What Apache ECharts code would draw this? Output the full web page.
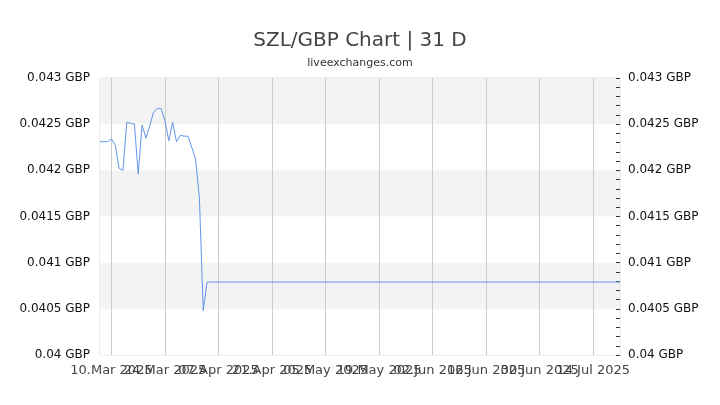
<!DOCTYPE html>
<html>
<head>
<meta charset="utf-8">
<script src="https://cdn.jsdelivr.net/npm/echarts@6/dist/echarts.min.js"></script>
<style>
  html, body { margin: 0; padding: 0; background: #fff; }
  #chart { width: 720px; height: 405px; }
</style>
</head>
<body>
<div id="chart"></div>
<script>
// daily SZL/GBP rate
const dates = [
  '2025-03-07', '2025-03-08', '2025-03-09', '2025-03-10', '2025-03-11', '2025-03-12',
  '2025-03-13', '2025-03-14', '2025-03-15', '2025-03-16', '2025-03-17', '2025-03-18',
  '2025-03-19', '2025-03-20', '2025-03-21', '2025-03-22', '2025-03-23', '2025-03-24',
  '2025-03-25', '2025-03-26', '2025-03-27', '2025-03-28', '2025-03-29', '2025-03-30',
  '2025-03-31', '2025-04-01', '2025-04-02', '2025-04-03', '2025-04-04', '2025-07-21'
];
const rates = [
  0.04231, 0.04231, 0.04231, 0.04234, 0.04227, 0.04202,
  0.04200, 0.04252, 0.04251, 0.04250, 0.04196, 0.04249,
  0.04235, 0.04248, 0.04263, 0.04267, 0.04267, 0.04253,
  0.04232, 0.04252, 0.04231, 0.04238, 0.04237, 0.04237,
  0.04225, 0.04212, 0.04170, 0.04048, 0.04079, 0.04079
];
// x axis tick labels (every 14 days)
const tickDates = [
  '2025-03-10', '2025-03-24', '2025-04-07', '2025-04-21', '2025-05-05',
  '2025-05-19', '2025-06-02', '2025-06-16', '2025-06-30', '2025-07-14'
];
const xStart = '2025-03-07';
const xEnd = '2025-07-21';

const months = ['Jan', 'Feb', 'Mar', 'Apr', 'May', 'Jun', 'Jul', 'Aug', 'Sep', 'Oct', 'Nov', 'Dec'];

function toTime(s) {
  const p = s.split('-');
  return Date.UTC(+p[0], +p[1] - 1, +p[2]);
}
function fmtDate(v) {
  const d = new Date(v);
  const dd = String(d.getUTCDate()).padStart(2, '0');
  return dd + '.' + months[d.getUTCMonth()] + ' ' + d.getUTCFullYear();
}
function fmtRate(v) {
  return parseFloat(v.toFixed(5)) + ' GBP';
}

const seriesData = dates.map((d, i) => [toTime(d), rates[i]]);
const ticks = tickDates.map(toTime);
// the labels overlap in the original, so split them over two axes
// (one axis would drop the overlapping ones)
const ticksEven = ticks.filter((t, i) => i % 2 === 0);
const ticksOdd = ticks.filter((t, i) => i % 2 === 1);

const chart = echarts.init(document.getElementById('chart'));
const font = 'DejaVu Sans';

function xAxisOf(labelValues, withGrid) {
  return {
    type: 'value',
    position: 'bottom',
    min: toTime(xStart),
    max: toTime(xEnd),
    axisLine: { show: false },
    axisTick: { show: false, customValues: ticks },
    axisLabel: {
      customValues: labelValues,
      formatter: fmtDate,
      showMinLabel: true,
      showMaxLabel: true,
      fontFamily: font,
      fontSize: 13,
      color: '#444',
      margin: 9
    },
    splitLine: { show: withGrid, lineStyle: { color: '#ccc', width: 1 } }
  };
}

chart.setOption({
  animation: false,
  textStyle: { fontFamily: font },
  title: {
    text: 'SZL/GBP Chart | 31 D',
    subtext: 'liveexchanges.com',
    left: 'center',
    top: 26,
    itemGap: 7,
    textStyle: { fontFamily: font, fontSize: 20, fontWeight: 'normal', color: '#444' },
    subtextStyle: { fontFamily: font, fontSize: 11, color: '#333' }
  },
  grid: {
    left: 100,
    right: 100,
    top: 78,
    bottom: 50,
    show: true,
    borderColor: '#ddd',
    borderWidth: 1,
    backgroundColor: 'transparent'
  },
  xAxis: [xAxisOf(ticksEven, true), xAxisOf(ticksOdd, false)],
  yAxis: [
    {
      type: 'value',
      position: 'left',
      min: 0.04,
      max: 0.043,
      interval: 0.0005,
      axisLine: { show: false },
      axisTick: { show: false },
      axisLabel: { formatter: fmtRate, fontFamily: font, fontSize: 12, color: '#111', margin: 10 },
      splitLine: { show: false },
      splitArea: { show: true, areaStyle: { color: ['#ffffff', '#f3f3f3'] } }
    },
    {
      type: 'value',
      position: 'right',
      min: 0.04,
      max: 0.043,
      interval: 0.0005,
      axisLine: { show: false },
      axisTick: { show: true, inside: true, length: 4, lineStyle: { color: '#333' } },
      minorTick: { show: true, splitNumber: 5, length: 4, lineStyle: { color: '#333' } },
      axisLabel: { formatter: fmtRate, fontFamily: font, fontSize: 12, color: '#111', margin: 8 },
      splitLine: { show: false }
    }
  ],
  series: [{
    type: 'line',
    data: seriesData,
    xAxisIndex: 0,
    yAxisIndex: 0,
    showSymbol: false,
    lineStyle: { color: '#6495ed', width: 1 }
  }]
});
</script>
</body>
</html>
